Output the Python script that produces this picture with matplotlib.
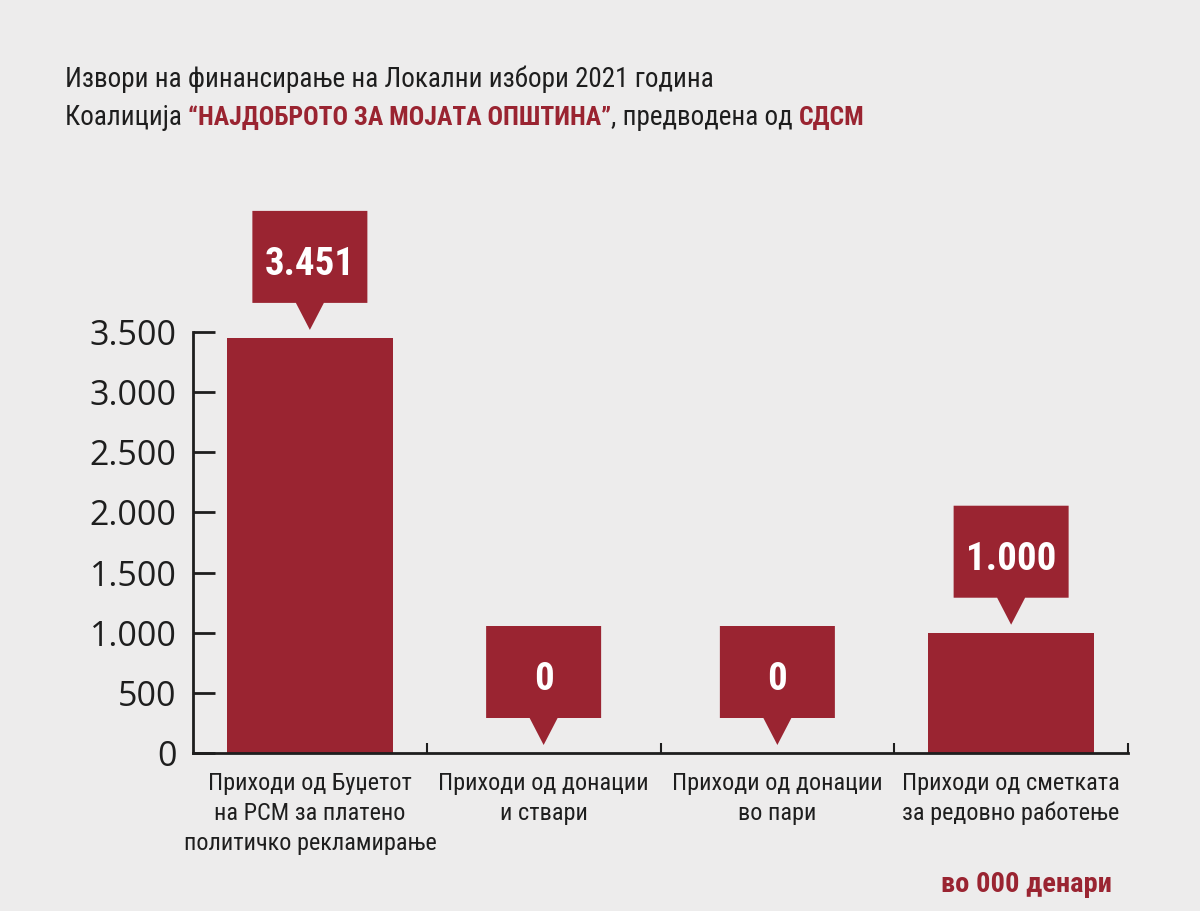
import matplotlib
matplotlib.use("Agg")
import matplotlib.pyplot as plt
import matplotlib.transforms as mtransforms
from matplotlib.patches import Polygon

categories = [
    "Приходи од Буџетот\nна РСМ за платено\nполитичко рекламирање",
    "Приходи од донации\nи ствари",
    "Приходи од донации\nво пари",
    "Приходи од сметката\nза редовно работење",
]
values = [3451, 0, 0, 1000]
value_labels = ["3.451", "0", "0", "1.000"]
yticks = [0, 500, 1000, 1500, 2000, 2500, 3000, 3500]
ytick_labels = ["0", "500", "1.000", "1.500", "2.000", "2.500", "3.000", "3.500"]

title1 = "Извори на финансирање на Локални избори 2021 година"
title2_parts = [("Коалиција ", False), ("“НАЈДОБРОТО ЗА МОЈАТА ОПШТИНА”", True),
                (", предводена од ", False), ("СДСМ", True)]
unit_note = "во 000 денари"

RED = "#9A2431"
BG = "#EDECEC"
DARK = "#1E1E1E"
NARROW = ["Roboto Condensed", "DejaVu Sans"]
TICKF = ["Open Sans", "DejaVu Sans"]

W, H = 1200, 911
fig = plt.figure(figsize=(W / 100, H / 100), dpi=100, facecolor=BG)
ax_l, ax_r, ax_b, ax_t = 193, 1128, 753, 332
ax = fig.add_axes([ax_l / W, 1 - ax_b / H, (ax_r - ax_l) / W, (ax_b - ax_t) / H])
ax.set_facecolor("none")

xs = list(range(len(values)))
ax.bar(xs, values, width=0.71, color=RED, zorder=2)
ax.set_xlim(-0.5, 3.5)
ax.set_ylim(0, 3500)

for s in ["top", "right"]:
    ax.spines[s].set_visible(False)
for s in ["left", "bottom"]:
    ax.spines[s].set_color(DARK)
    ax.spines[s].set_linewidth(2)

ax.set_yticks(yticks, ytick_labels)
ax.tick_params(axis="y", direction="in", length=16, width=2, pad=12,
               labelsize=24.5, colors=DARK)
for lab in ax.get_yticklabels():
    lab.set_fontfamily(TICKF)

ax.set_xticks(xs, [""] * len(xs))
ax.tick_params(axis="x", which="major", length=0)
ax.set_xticks([0.5, 1.5, 2.5, 3.5], minor=True)
ax.tick_params(axis="x", which="minor", direction="in", length=7, width=1.5, colors=DARK)

# category labels, one text per line
blend = mtransforms.blended_transform_factory(ax.transData, fig.transFigure)
first_base, line_step = 790, 30
for x, cat in zip(xs, categories):
    for j, line in enumerate(cat.split("\n")):
        ax.text(x, 1 - (first_base + j * line_step) / H, line, transform=blend,
                ha="center", va="baseline", fontsize=17.5, color=DARK, family=NARROW)

# callouts
ux = 4.0 / (ax_r - ax_l)
uy = 3500.0 / (ax_b - ax_t)
for x, v, lab in zip(xs, values, value_labels):
    tip = v + 8 * uy
    base = tip + 27 * uy
    top = base + 92 * uy
    hw = 57.5 * ux
    tw = 14 * ux
    poly = Polygon([(x - hw, base), (x - tw, base), (x, tip), (x + tw, base),
                    (x + hw, base), (x + hw, top), (x - hw, top)],
                   closed=True, facecolor=RED, edgecolor="none", clip_on=False, zorder=3)
    ax.add_patch(poly)
    ax.text(x, (base + top) / 2 - 18.5 * uy, lab, color="white", fontsize=28,
            fontweight="bold", ha="center", va="baseline", family=NARROW,
            zorder=4, clip_on=False)

# titles
fig.text(65 / W, 1 - 87 / H, title1, fontsize=19.5, color=DARK, family=NARROW,
         ha="left", va="baseline")
renderer = fig.canvas.get_renderer()
xpos = 65
for txt, hl in title2_parts:
    t = fig.text(xpos / W, 1 - 125 / H, txt, fontsize=18.5 if hl else 19.5,
                 family=NARROW, color=RED if hl else DARK,
                 fontweight="bold" if hl else "normal", ha="left", va="baseline")
    xpos = t.get_window_extent(renderer).x1

fig.text(1112 / W, 1 - 892 / H, unit_note, fontsize=20.5, color=RED, fontweight="bold",
         family=NARROW, ha="right", va="baseline")

fig.savefig("out.png", dpi=100, facecolor=BG)
